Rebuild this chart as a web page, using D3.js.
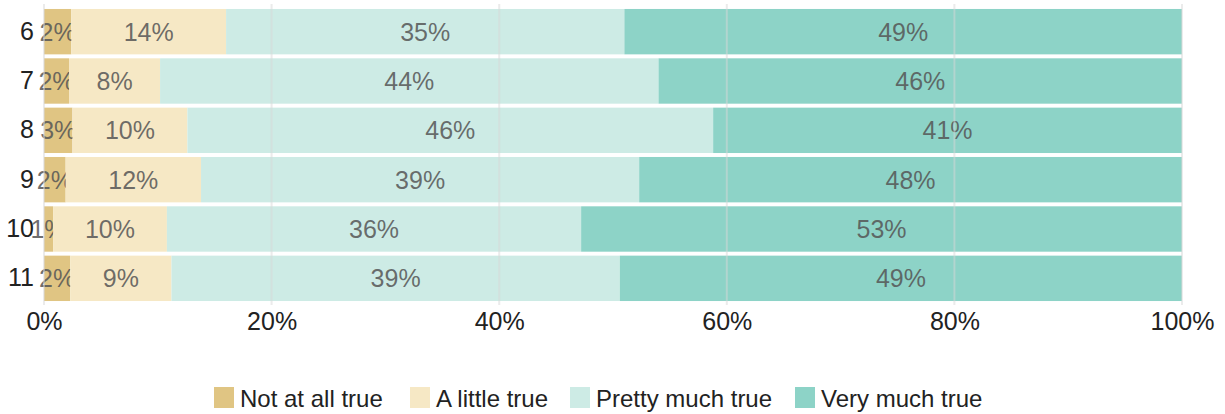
<!DOCTYPE html>
<html>
<head>
<meta charset="utf-8">
<script src="https://cdn.jsdelivr.net/npm/d3@7"></script>
<style>
  body { margin: 0; background: #fff; }
  text { font-family: "Liberation Sans", Arial, sans-serif; }
</style>
</head>
<body>
<div id="chart"></div>
<script>
// rows (grade) and the four answer series, in percent
let grades = ["6", "7", "8", "9", "10", "11"];
let seriesNames = ["Not at all true", "A little true", "Pretty much true", "Very much true"];
let notAtAll   = [2.4, 2.2, 2.5, 1.9, 0.8, 2.3];
let aLittle    = [13.6, 8.0, 10.1, 11.9, 10.0, 8.9];
let prettyMuch = [35.0, 43.8, 46.2, 38.5, 36.4, 39.4];
let veryMuch   = [49.0, 46.0, 41.2, 47.7, 52.8, 49.4];
let colors = ["#e0c583", "#f6e8c5", "#cdebe5", "#8dd3c7"];
let xTicks = [0, 20, 40, 60, 80, 100];

let width = 1225, height = 414;
let margin = {top: 7, right: 43, bottom: 111, left: 44};

let rows = grades.map((g, i) => ({
    grade: g,
    "Not at all true": notAtAll[i],
    "A little true": aLittle[i],
    "Pretty much true": prettyMuch[i],
    "Very much true": veryMuch[i]
}));

let stacked = d3.stack().keys(seriesNames)(rows);

let svg = d3.select("#chart").append("svg")
    .attr("width", width)
    .attr("height", height);

let x = d3.scaleLinear()
    .domain([0, 100])
    .range([margin.left, width - margin.right]);

let y = d3.scaleBand()
    .domain(grades)
    .range([margin.top, height - margin.bottom])
    .paddingInner(0.08)
    .paddingOuter(0.04);

let color = d3.scaleOrdinal().domain(seriesNames).range(colors);

// bars
let groups = svg.selectAll("g.series")
    .data(stacked)
    .join("g")
    .attr("class", "series")
    .attr("fill", d => color(d.key));

groups.selectAll("rect")
    .data(d => d)
    .join("rect")
    .attr("x", d => x(d[0]))
    .attr("y", d => y(d.data.grade))
    .attr("width", d => x(d[1]) - x(d[0]))
    .attr("height", y.bandwidth());

// gridlines on top, faint
svg.append("g")
    .selectAll("line")
    .data(xTicks)
    .join("line")
    .attr("x1", d => x(d))
    .attr("x2", d => x(d))
    .attr("y1", 4)
    .attr("y2", y.range()[1] + 2)
    .attr("stroke", "#d8d8d8")
    .attr("stroke-opacity", 0.5)
    .attr("stroke-width", 2);

// value labels
groups.selectAll("text")
    .data(d => d)
    .join("text")
    .attr("x", d => (x(d[0]) + x(d[1])) / 2)
    .attr("y", d => y(d.data.grade) + y.bandwidth() / 2)
    .attr("dy", "0.36em")
    .attr("text-anchor", "middle")
    .attr("fill", "#555")
    .attr("fill-opacity", 0.85)
    .style("font-size", "25px")
    .text(d => Math.round(d[1] - d[0]) + "%");

// y labels
let yAxis = svg.append("g")
    .attr("transform", `translate(${margin.left},0)`)
    .call(d3.axisLeft(y).tickSize(0).tickPadding(10));
yAxis.select(".domain").remove();
yAxis.selectAll("text")
    .attr("fill", "#222")
    .style("font-size", "25px")
    .style("font-family", "'Liberation Sans', Arial, sans-serif");

// x labels
let xAxis = svg.append("g")
    .attr("transform", `translate(0,${y.range()[1]})`)
    .call(d3.axisBottom(x).tickValues(xTicks).tickSize(0).tickPadding(9).tickFormat(d => d + "%"));
xAxis.select(".domain").remove();
xAxis.selectAll("text")
    .attr("fill", "#222")
    .style("font-size", "25px")
    .style("font-family", "'Liberation Sans', Arial, sans-serif");

// legend
let legendX = [214, 410, 570, 795];
let legend = svg.append("g")
    .selectAll("g")
    .data(seriesNames)
    .join("g")
    .attr("transform", (d, i) => `translate(${legendX[i]},387)`);

legend.append("rect")
    .attr("width", 20)
    .attr("height", 21)
    .attr("fill", d => color(d));

legend.append("text")
    .attr("x", 26)
    .attr("y", 11)
    .attr("dy", "0.36em")
    .attr("fill", "#222")
    .style("font-size", "24px")
    .text(d => d);
</script>
</body>
</html>
